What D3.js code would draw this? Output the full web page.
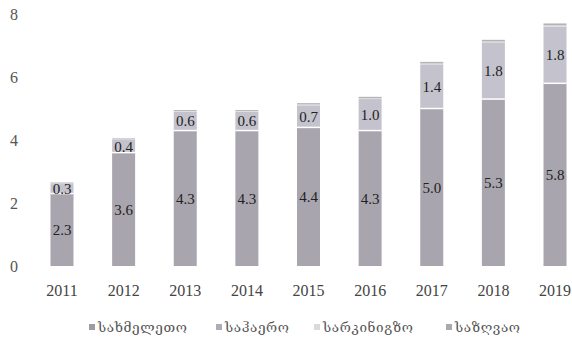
<!DOCTYPE html>
<html>
<head>
<meta charset="utf-8">
<script src="https://cdn.jsdelivr.net/npm/d3@7"></script>
<style>
  body { margin: 0; background: #fff; }
  svg text { font-family: "Liberation Serif", "DejaVu Serif", serif; }
</style>
</head>
<body>
<script>
// years on the x axis
var years = ["2011", "2012", "2013", "2014", "2015", "2016", "2017", "2018", "2019"];
// series values (stacked)
var land = [2.3, 3.6, 4.3, 4.3, 4.4, 4.3, 5.0, 5.3, 5.8];
var air = [0.3, 0.4, 0.6, 0.6, 0.7, 1.0, 1.4, 1.8, 1.8];
var rail = [0.02, 0.02, 0.02, 0.02, 0.03, 0.03, 0.03, 0.03, 0.04];
var sea = [0.03, 0.03, 0.03, 0.03, 0.04, 0.04, 0.05, 0.05, 0.06];
var seriesNames = ["სახმელეთო", "საჰაერო", "სარკინიგზო", "საზღვაო"];
var yTicks = [0, 2, 4, 6, 8];

var colors = ["#a9a5ae", "#c3c2cd", "#dcdcdc", "#b3b3b8"];
var legendColors = ["#9c9ca2", "#adadb6", "#dadada", "#a9a9ae"];

var width = 572, height = 347;

var svg = d3.select("body").append("svg")
    .attr("width", width)
    .attr("height", height);

// scales
var x = d3.scalePoint().domain(years).range([62, 555]);
var y = d3.scaleLinear().domain([0, 8]).range([266, 14]);
var barW = 23;

// build table for stack
var table = years.map(function(yr, i) {
  return { year: yr, land: land[i], air: air[i], rail: rail[i], sea: sea[i] };
});
var keys = ["land", "air", "rail", "sea"];
var stacked = d3.stack().keys(keys)(table);

// y axis labels (no line)
svg.append("g").selectAll("text")
  .data(yTicks)
  .enter().append("text")
    .attr("x", 14)
    .attr("y", function(d) { return y(d); })
    .attr("dy", "0.35em")
    .attr("text-anchor", "middle")
    .style("font-size", "16px")
    .style("fill", "#555")
    .text(function(d) { return d; });

// bars
var layer = svg.append("g").selectAll("g")
  .data(stacked)
  .enter().append("g")
    .attr("fill", function(d, i) { return colors[i]; });

layer.selectAll("rect")
  .data(function(d) { return d; })
  .enter().append("rect")
    .attr("x", function(d) { return x(d.data.year) - barW / 2; })
    .attr("y", function(d) { return y(d[1]); })
    .attr("width", barW)
    .attr("height", function(d) { return y(d[0]) - y(d[1]); });

// white separator between land and air
svg.append("g").selectAll("line")
  .data(stacked[0])
  .enter().append("line")
    .attr("x1", function(d) { return x(d.data.year) - barW / 2; })
    .attr("x2", function(d) { return x(d.data.year) + barW / 2; })
    .attr("y1", function(d) { return y(d[1]); })
    .attr("y2", function(d) { return y(d[1]); })
    .attr("stroke", "#fff")
    .attr("stroke-width", 1.5);

// value labels for land and air
[0, 1].forEach(function(k) {
  svg.append("g").selectAll("text")
    .data(stacked[k])
    .enter().append("text")
      .attr("x", function(d) { return x(d.data.year); })
      .attr("y", function(d) { return y((d[0] + d[1]) / 2); })
      .attr("dy", "0.35em")
      .attr("text-anchor", "middle")
      .style("font-size", "15px")
      .style("fill", "#222")
      .text(function(d) { return (d[1] - d[0]).toFixed(1); });
});

// x axis labels
svg.append("g").selectAll("text")
  .data(years)
  .enter().append("text")
    .attr("x", function(d) { return x(d); })
    .attr("y", 290)
    .attr("dy", "0.35em")
    .attr("text-anchor", "middle")
    .style("font-size", "16px")
    .style("fill", "#444")
    .text(function(d) { return d; });

// legend
var legendX = [89, 216, 314, 446];
var legend = svg.append("g").selectAll("g")
  .data(seriesNames)
  .enter().append("g")
    .attr("transform", function(d, i) { return "translate(" + legendX[i] + ",328)"; });

legend.append("rect")
    .attr("x", 0)
    .attr("y", -4)
    .attr("width", 6)
    .attr("height", 6)
    .attr("fill", function(d, i) { return legendColors[i]; });

legend.append("text")
    .attr("x", 9)
    .attr("dy", "0.3em")
    .style("font-family", "'DejaVu Serif', serif")
    .style("font-size", "13.5px")
    .style("letter-spacing", "0.6px")
    .style("fill", "#555")
    .text(function(d) { return d; });
</script>
</body>
</html>
